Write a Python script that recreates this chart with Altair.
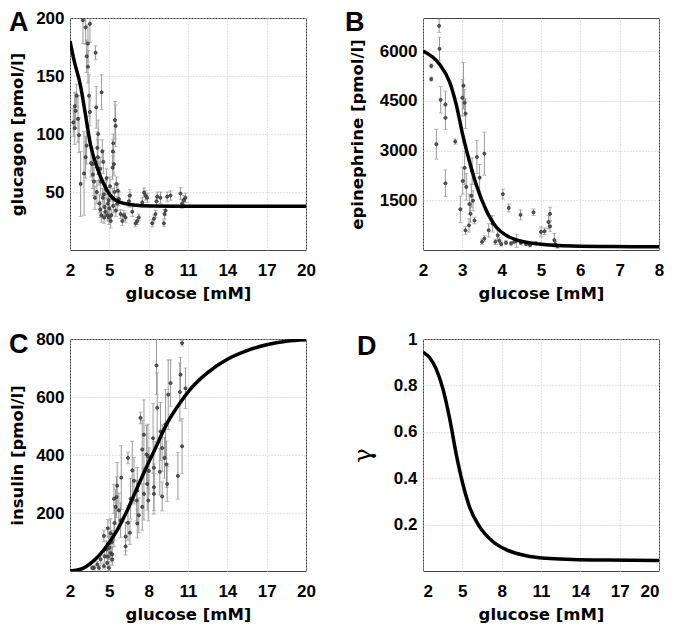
import altair as alt
import pandas as pd

LFONT = "Liberation Sans"
TFONT = "DejaVu Sans"

# ---------------- Panel A: glucagon ----------------
a_x = [2.25, 2.36, 2.36, 2.43, 2.51, 2.61, 2.69, 2.81, 2.99, 3.07, 3.19, 3.19, 3.27, 3.27, 3.37, 3.37,
       3.45, 3.52, 3.52, 3.70, 3.83, 3.95, 4.00, 4.08, 4.13, 4.21, 4.34, 4.41, 4.46, 4.54, 4.59, 4.64,
       4.79, 4.89, 4.97, 5.10, 5.22, 5.25, 5.27, 5.30, 5.35, 5.43, 5.48, 5.55, 5.66, 5.73, 5.86, 5.99,
       6.11, 6.24, 6.49, 6.57, 6.75, 7.00, 7.13, 7.25, 7.51, 7.64, 7.76, 7.89, 8.27, 8.40, 8.52, 8.60,
       8.65, 8.90, 9.16, 9.21, 9.29, 9.41, 9.67, 10.43, 10.55, 10.68, 10.81,
       4.25, 4.30, 4.40, 4.50, 4.60, 4.70, 4.75, 4.85, 4.95, 5.00, 5.05, 5.15, 5.30, 5.40, 5.50, 5.60,
       3.90, 4.05, 3.75, 3.60, 4.15, 4.30]
a_y = [110, 105, 124, 120, 133, 113, 99, 57, 198, 66, 192, 80, 167, 90, 158, 178,
       133, 195, 119, 74, 59, 170, 123, 88, 80, 66, 59, 136, 85, 76, 48, 37,
       62, 40, 28, 25, 45, 71, 85, 92, 74, 112, 107, 57, 51, 44, 31, 25,
       30, 28, 42, 47, 33, 23, 25, 28, 41, 49.5, 47, 45, 23, 27, 31, 42,
       46, 45, 23, 31, 34, 46, 47, 48.7, 40, 43, 45,
       40, 35, 30, 45, 28, 33, 52, 30, 43, 36, 55, 30, 38, 50, 34, 40,
       45, 50, 65, 75, 100, 70]
a_err = [12, 14, 12, 15, 10, 20, 15, 28, 20, 36, 15, 18, 14, 16, 14, 16,
         18, 16, 12, 14, 12, 6, 18, 14, 15, 10, 12, 15, 10, 10, 10, 8,
         8, 8, 6, 6, 8, 10, 10, 8, 10, 16, 18, 6, 6, 6, 4, 4,
         4, 4, 5, 5, 4, 3, 3, 3, 4, 4, 4, 4, 3, 3, 3, 4,
         4, 5, 3, 4, 4, 4, 4, 5, 4, 4, 4,
         8, 7, 6, 8, 5, 6, 8, 5, 7, 6, 8, 5, 6, 7, 5, 6,
         10, 10, 12, 12, 12, 10]
a_cx = [2.0, 2.3, 2.81, 3.19, 3.57, 4.08, 4.59, 5.10, 5.86, 6.87, 8.14, 10.0, 14.0, 20.0]
a_cy = [180, 164, 141, 116, 90.5, 70.7, 56.6, 46.7, 41.0, 38.8, 37.9, 37.8, 37.8, 37.8]

# ---------------- Panel B: epinephrine ----------------
b_x = [2.21, 2.21, 2.34, 2.41, 2.42, 2.45, 2.57, 2.57, 2.57, 2.82, 2.95, 3.00, 3.03, 3.06, 3.08, 3.01,
       3.06, 3.10, 3.08, 3.17, 3.18, 3.21, 3.23, 3.27, 3.25, 3.31, 3.37, 3.44, 3.56, 3.50, 3.56, 3.67,
       3.77, 3.84, 3.90, 3.94, 3.99, 4.03, 4.11, 4.18, 4.24, 4.32, 4.38, 4.49, 4.48, 4.62, 4.72, 4.81,
       4.87, 5.00, 5.09, 5.19, 5.23, 5.23, 5.34, 5.36, 5.42]
b_y = [5554, 5157, 3193, 6764, 6070, 4532, 4394, 3987, 2013, 3273, 1230, 4592, 4959, 4443, 4116, 2083,
       2480, 1904, 595, 744, 1388, 1091, 1636, 1488, 2380, 893, 2807, 2182, 2906, 248, 347, 595,
       793, 248, 446, 278, 179, 1686, 218, 1269, 198, 248, 278, 218, 1061, 179, 149, 1140,
       198, 545, 565, 843, 1091, 714, 298, 179, 119]
b_err = [60, 60, 450, 200, 350, 400, 400, 350, 400, 80, 400, 550, 700, 400, 450, 400,
         500, 400, 120, 200, 300, 250, 350, 300, 400, 100, 500, 400, 650, 80, 80, 200,
         250, 80, 150, 100, 60, 150, 60, 120, 50, 60, 200, 60, 150, 50, 50, 100,
         50, 150, 100, 200, 200, 150, 200, 80, 60]
b_cx = [2.0, 2.42, 2.68, 2.85, 3.01, 3.18, 3.35, 3.61, 3.86, 4.11, 4.45, 4.96, 5.8, 6.8, 8.0]
b_cy = [6000, 5603, 5058, 4364, 3471, 2678, 1983, 1190, 694, 446, 278, 179, 119, 104, 100]

# ---------------- Panel C: insulin ----------------
c_x = [10.55, 10.43, 10.38, 10.81, 9.67, 9.49, 8.60, 8.65, 8.90, 9.29, 9.03, 9.21, 9.36, 9.41, 9.03, 8.85,
       8.34, 8.40, 8.40, 8.40, 10.55, 10.23, 7.38, 7.64, 7.51, 7.84, 7.94, 8.02, 7.89, 7.97, 7.64, 7.51,
       7.13, 7.08, 7.25, 7.13, 6.75, 6.88, 6.42, 6.62, 6.57, 6.42, 6.24, 6.24, 5.91, 5.86, 5.73, 5.60,
       5.48, 5.55, 5.35, 5.40, 5.35, 5.10, 4.97, 4.89, 4.59, 4.79, 5.10, 5.22, 4.34, 4.08, 3.83, 3.70,
       4.21, 4.59, 4.84, 4.97, 5.22, 4.64, 5.00, 5.20, 4.90]
c_y = [786, 677, 617, 630, 648, 608, 709, 563, 481, 506, 424, 390, 368, 300, 257, 342,
       458, 356, 289, 266, 430, 328, 528, 470, 419, 402, 396, 345, 300, 243, 266, 221,
       277, 243, 192, 164, 347, 311, 390, 249, 132, 166, 119, 85, 322, 175, 209, 294,
       221, 255, 249, 166, 124, 130, 96, 147, 121, 74, 62, 40, 40, 23, 11, 11,
       11, 17, 28, 11, 57, 51, 80, 100, 50]
c_err = [10, 60, 100, 70, 80, 120, 100, 120, 100, 120, 80, 70, 80, 60, 50, 80,
         120, 90, 80, 70, 95, 80, 20, 120, 100, 100, 110, 80, 90, 70, 90, 80,
         80, 70, 60, 50, 100, 80, 20, 70, 40, 60, 50, 30, 110, 60, 60, 80,
         60, 70, 50, 60, 40, 50, 40, 30, 20, 30, 30, 20, 15, 10, 8, 6,
         8, 10, 15, 10, 25, 20, 40, 40, 25]
c_cx = [2.0, 2.8, 3.8, 4.6, 5.6, 6.4, 7.2, 7.9, 8.4, 9.4, 10.4, 11.2, 12.5, 14.0, 15.5, 17.0, 18.5, 20.0]
c_cy = [0, 6, 35, 74, 141, 212, 295, 365, 412, 509, 580, 628, 684, 730, 760, 780, 792, 797]

# ---------------- Panel D: gamma ----------------
d_cx = [2.0, 2.51, 3.01, 3.52, 4.03, 4.54, 5.04, 5.55, 6.31, 7.32, 8.34, 9.86, 11.38, 13.41, 15.95, 20.0]
d_cy = [0.943, 0.919, 0.870, 0.785, 0.658, 0.502, 0.375, 0.276, 0.191, 0.127, 0.092, 0.066, 0.055, 0.050, 0.047, 0.045]

glu_ticks_wide = [2, 5, 8, 11, 14, 17, 20]
glu_ticks_b = [2, 3, 4, 5, 6, 7, 8]

W, H = 236, 232
ERR = "#9a9a9a"


def make_panel(letter, lx, ly, px, py, perr, cx, cy, xdom, xticks, ydom, yticks, yfmt, ytitle, title_x,
               tsize=16.5, tweight="bold", tfont=TFONT, flush=False):
    xs = alt.Scale(domain=xdom, nice=False, zero=False)
    ys = alt.Scale(domain=ydom, nice=False, zero=False)
    xax = alt.Axis(values=xticks, title="glucose [mM]", format="d", titleY=48,
                   titleBaseline="alphabetic", labelFlush=flush, labelOverlap=False)
    yax = alt.Axis(values=yticks, title=ytitle, format=yfmt, titleX=title_x, titleY=H / 2,
                   titleAngle=270, titleAlign="center", titleBaseline="alphabetic",
                   titleFontSize=tsize, titleFontWeight=tweight, titleFont=tfont,
                   labelFlush=False, labelOverlap=False)

    def X(f):
        return alt.X(f, type="quantitative", scale=xs, axis=xax)

    def Y(f):
        return alt.Y(f, type="quantitative", scale=ys, axis=yax)

    layers = []
    if px:
        ymin, ymax = ydom
        pts = pd.DataFrame({"g": px, "v": py, "e": perr})
        base = alt.Chart(pts).transform_calculate(
            lo=f"max(datum.v - datum.e, {ymin})",
            hi=f"min(datum.v + datum.e, {ymax})",
            top="datum.v + datum.e",
        )
        layers.append(base.mark_rule(color=ERR, strokeWidth=1, clip=True).encode(
            x=X("g"), y=Y("lo"), y2="hi:Q"))
        layers.append(base.mark_tick(orient="horizontal", color=ERR, size=4, thickness=1,
                                     clip=True).encode(x=X("g"), y=Y("lo")))
        layers.append(base.transform_filter(f"datum.top <= {ymax}").mark_tick(
            orient="horizontal", color=ERR, size=4, thickness=1, clip=True).encode(x=X("g"), y=Y("hi")))
        layers.append(base.mark_point(filled=True, fill="#555555", stroke="#222222", strokeWidth=0.6,
                                      size=10, opacity=1, clip=True).encode(x=X("g"), y=Y("v")))
    curve = pd.DataFrame({"g": cx, "v": cy})
    layers.append(alt.Chart(curve).mark_line(color="black", strokeWidth=3.5, interpolate="monotone",
                                             clip=True).encode(x=X("g"), y=Y("v")))
    layers.append(alt.Chart(pd.DataFrame({"t": [letter]})).mark_text(
        font=LFONT, fontSize=27, fontWeight="bold", align="left", baseline="top", color="black"
    ).encode(x=alt.value(lx), y=alt.value(ly), text="t:N"))
    return alt.layer(*layers).properties(width=W, height=H)


pA = make_panel("A", -61, -8.5, a_x, a_y, a_err, a_cx, a_cy, [2, 20], glu_ticks_wide,
                [0, 200], [50, 100, 150, 200], "d", "glucagon [pmol/l]", -48)
pB = make_panel("B", -78, -8.5, b_x, b_y, b_err, b_cx, b_cy, [2, 8], glu_ticks_b,
                [0, 7000], [1500, 3000, 4500, 6000], "d", "epinephrine [pmol/l]", -61)
pC = make_panel("C", -61, -7, c_x, c_y, c_err, c_cx, c_cy, [2, 20], glu_ticks_wide,
                [0, 800], [200, 400, 600, 800], "d", "insulin [pmol/l]", -48)
pD = make_panel("D", -66, -5, [], [], [], d_cx, d_cy, [2, 20], glu_ticks_wide,
                [0, 1], [0.2, 0.4, 0.6, 0.8, 1.0], "~g", "γ", -53,
                tsize=24, tweight="normal", tfont="DejaVu Serif", flush=True)

chart = alt.concat(pA, pB, pC, pD, columns=2, spacing={"row": 89, "column": 117}, bounds="flush").properties(
    padding={"left": 0, "top": 0, "right": 0, "bottom": 0}
).configure_axis(
    labelFont=LFONT, labelFontSize=17, labelFontWeight="bold", labelColor="black",
    titleFont=TFONT, titleFontSize=16.5, titleFontWeight="bold", titleColor="black",
    grid=True, gridColor="#c8c8c8", gridDash=[1, 2], gridWidth=1,
    domain=False, ticks=False, labelPadding=6
).configure_axisX(labelPadding=12).configure_view(stroke="#444444", strokeWidth=1)

chart.save("out.html", embed_options={"renderer": "svg", "actions": False})
